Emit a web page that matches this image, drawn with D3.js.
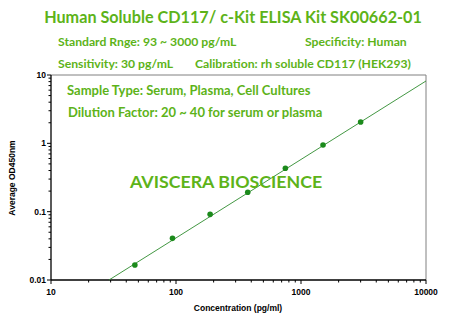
<!DOCTYPE html>
<html><head><meta charset="utf-8">
<script src="https://cdn.jsdelivr.net/npm/d3@7"></script>
<style>body{margin:0;background:#fff}svg{display:block}</style>
</head><body>
<script>
const concentrations = [46.875, 93.75, 187.5, 375, 750, 1500, 3000];
const odValues = [0.0166, 0.0407, 0.0914, 0.192, 0.431, 0.945, 2.05];
const fitX = [29.1, 10000];
const fitY = [0.01, 8.17];
const xTickValues = [10, 100, 1000, 10000];
const yTickValues = [0.01, 0.1, 1, 10];
const yTickLabels = ["0.01", "0.1", "1", "10"];

const W = 450, H = 320;
const green = "#5db319";
const svg = d3.select("body").append("svg").attr("width", W).attr("height", H);

const x = d3.scaleLog().domain([10, 10000]).range([51, 426]);
const y = d3.scaleLog().domain([0.01, 10]).range([280, 75]);

// frame top/right
svg.append("line").attr("x1", 51).attr("x2", 426).attr("y1", 75).attr("y2", 75).attr("stroke", "#808080").attr("stroke-width", 1);
svg.append("line").attr("x1", 426).attr("x2", 426).attr("y1", 75).attr("y2", 280).attr("stroke", "#808080").attr("stroke-width", 1);

// minor ticks
const xMinor = [];
for (let d = 10; d < 10000; d *= 10) for (let k = 2; k <= 9; k++) xMinor.push(d * k);
const yMinor = [];
for (let d = 0.01; d < 10; d *= 10) for (let k = 2; k <= 9; k++) yMinor.push(+(d * k).toPrecision(3));

const xAxis = svg.append("g").attr("transform", "translate(0,280)");
xAxis.append("line").attr("x1", 51).attr("x2", 426).attr("stroke", "#000").attr("stroke-width", 1.3);
xAxis.selectAll(".mn").data(xMinor).join("line").attr("x1", d => x(d)).attr("x2", d => x(d)).attr("y1", 0).attr("y2", 2.5).attr("stroke", "#000");
xAxis.selectAll(".mj").data(xTickValues).join("line").attr("x1", d => x(d)).attr("x2", d => x(d)).attr("y1", 0).attr("y2", 4).attr("stroke", "#000");
xAxis.selectAll("text").data(xTickValues).join("text").attr("x", d => x(d)).attr("y", 15)
  .attr("text-anchor", "middle").attr("font-family", "Liberation Sans, Arial, sans-serif").attr("font-size", 8.5).attr("font-weight", "bold").text(d => d);

const yAxis = svg.append("g").attr("transform", "translate(51,0)");
yAxis.append("line").attr("y1", 75).attr("y2", 280).attr("stroke", "#000").attr("stroke-width", 1.3);
yAxis.selectAll(".mn").data(yMinor).join("line").attr("y1", d => y(d)).attr("y2", d => y(d)).attr("x1", 0).attr("x2", -2.5).attr("stroke", "#000");
yAxis.selectAll(".mj").data(yTickValues).join("line").attr("y1", d => y(d)).attr("y2", d => y(d)).attr("x1", 0).attr("x2", -4).attr("stroke", "#000");
yAxis.selectAll("text").data(yTickValues).join("text").attr("x", -5).attr("y", d => y(d) + 3)
  .attr("text-anchor", "end").attr("font-family", "Liberation Sans, Arial, sans-serif").attr("font-size", 8.5).attr("font-weight", "bold").text((d, i) => yTickLabels[i]);

svg.append("text").attr("x", 238).attr("y", 311).attr("text-anchor", "middle")
  .attr("font-family", "Liberation Sans, Arial, sans-serif").attr("font-size", 8.5).attr("font-weight", "bold").text("Concentration (pg/ml)");
svg.append("text").attr("transform", "translate(15,178) rotate(-90)").attr("text-anchor", "middle")
  .attr("font-family", "Liberation Sans, Arial, sans-serif").attr("font-size", 8.5).attr("font-weight", "bold").text("Average OD450nm");

// fit line
svg.append("path").datum(fitX.map((v, i) => [v, fitY[i]]))
  .attr("d", d3.line().x(d => x(d[0])).y(d => y(d[1])))
  .attr("stroke", "#2e8b2e").attr("stroke-width", 0.9).attr("fill", "none");

// points
svg.selectAll(".pt").data(concentrations).join("circle")
  .attr("cx", d => x(d)).attr("cy", (d, i) => y(odValues[i])).attr("r", 2.8).attr("fill", "#1b8a1b");

// texts
const F = "Lato, 'Noto Sans', sans-serif";
function t(txt, xx, yy, size, anchor) {
  svg.append("text").attr("x", xx).attr("y", yy).attr("font-family", F).attr("font-weight", "bold")
    .attr("font-size", size).attr("fill", green).attr("text-anchor", anchor || "start").text(txt);
}
t("Human Soluble CD117/ c-Kit ELISA Kit SK00662-01", 233, 23, 16.2, "middle");
t("Standard Rnge: 93 ~ 3000 pg/mL", 58, 46, 12.2);
t("Specificity: Human", 305, 46, 12.2);
t("Sensitivity: 30 pg/mL", 58, 68, 12.2);
t("Calibration: rh soluble CD117 (HEK293)", 195, 68, 12.2);
t("Sample Type: Serum, Plasma, Cell Cultures", 67, 95, 13);
t("Dilution Factor: 20 ~ 40 for serum or plasma", 68, 117, 13);
t("AVISCERA BIOSCIENCE", 130, 188, 17.8);
</script>
</body></html>
